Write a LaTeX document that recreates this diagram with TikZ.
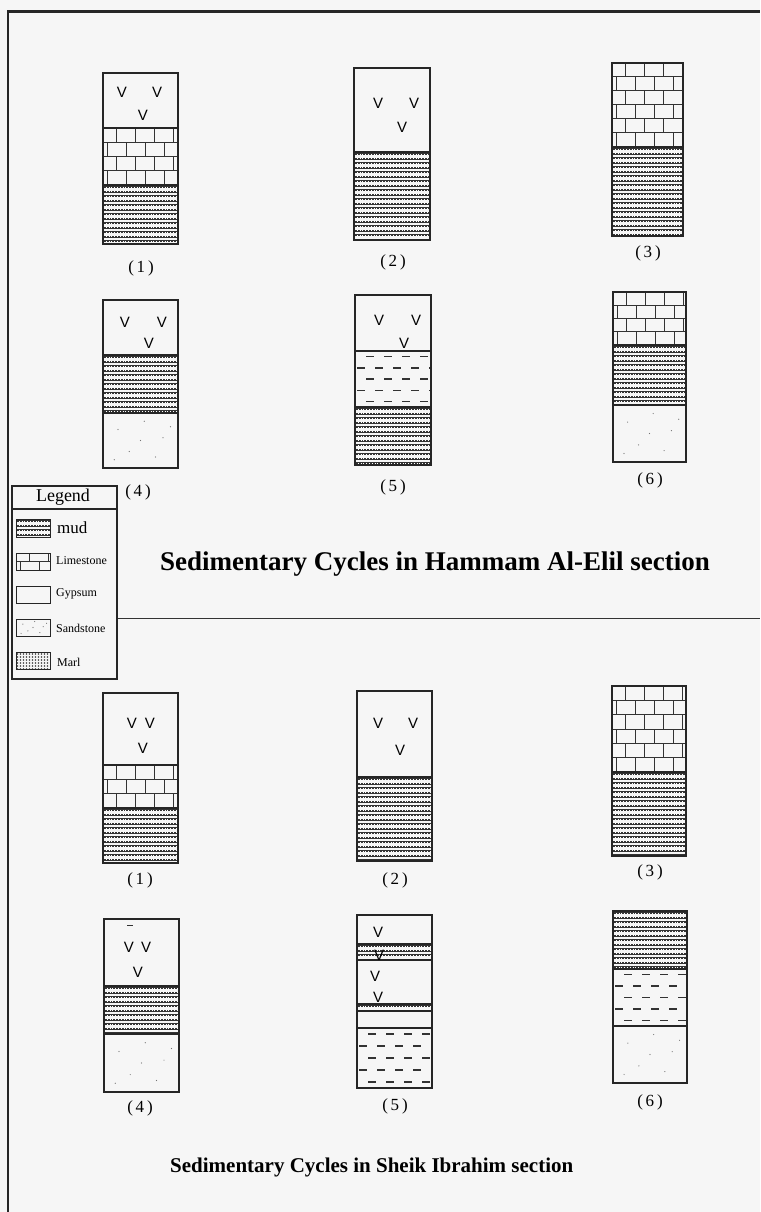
\documentclass[tikz,border=0pt]{standalone}
\usepackage{fontspec}
\setmainfont{Liberation Serif}
\setsansfont{Liberation Sans}

\tikzset{
  bed/.style={draw=black!85, line width=1.2pt},
  mudline/.style={black!80, line width=2.2pt},
  mudgrain/.style={white, line width=0.4pt, dash pattern=on 1pt off 1.8pt},
  brick/.style={black!80, line width=1pt},
  dashmark/.style={black!80, line width=1.4pt},
  gyps/.style={font=\sffamily\fontsize{15}{15}\selectfont, inner sep=0pt},
  cyclabel/.style={font=\fontsize{17}{17}\selectfont},
  legtext/.style={anchor=west, font=\fontsize{12}{12}\selectfont, inner sep=0pt},
}

% mud: x1 y1 x2 y2
\newcommand{\mudbed}[4]{%
  \begin{scope}
    \clip (#1,#2) rectangle (#3,#4);
    \pgfmathsetmacro\hgt{#4-#2+2}
    \foreach \d in {2.2,6.7,...,\hgt} {
      \draw[mudline] (#1,#2+\d) -- (#3,#2+\d);
      \draw[mudgrain] (#1,#2+\d-0.5) -- (#3,#2+\d-0.5);
    }
  \end{scope}}
% limestone: x1 y1 x2 y2 rows
\newcommand{\limebed}[5]{%
  \begin{scope}
    \clip (#1,#2) rectangle (#3,#4);
    \pgfmathsetmacro\rowh{(#4-#2)/#5}
    \foreach \r in {1,...,#5} {
      \pgfmathsetmacro\off{mod(\r,2)*9.5}
      \draw[brick] (#1,#2+\r*\rowh) -- (#3,#2+\r*\rowh);
      \foreach \c in {0,...,4}
        \draw[brick] (#1+4+\off+\c*19,#2+\r*\rowh-\rowh) -- ++(0,\rowh);
    }
  \end{scope}}
% dashed bed: x1 y1 x2 y2 rows
\newcommand{\dashbed}[5]{%
  \begin{scope}
    \clip (#1,#2) rectangle (#3,#4);
    \pgfmathsetmacro\rowh{(#4-#2)/#5}
    \foreach \r in {1,...,#5} {
      \pgfmathsetmacro\off{mod(\r,2)*9}
      \foreach \c in {0,...,4}
        \draw[dashmark] (#1+2+\off+\c*18,#2+\r*\rowh-0.5*\rowh) -- ++(8,0);
    }
  \end{scope}}
% sandstone dots: x1 y1 x2 y2
\newcommand{\sandbed}[4]{%
  \foreach \u/\v in {0.2/0.3,0.55/0.15,0.8/0.45,0.35/0.7,0.7/0.8,0.15/0.85,0.9/0.25,0.5/0.5}
    \fill[black!55] ({#1+\u*(#3-#1)},{#2+\v*(#4-#2)}) circle (0.6pt);}

\begin{document}
\begin{tikzpicture}[x=1pt,y=-1pt]
\useasboundingbox (0,0) rectangle (760,1212);
\fill[gray!7] (0,0) rectangle (760,1212);

% frame
\draw[black!85, line width=2pt] (8,1212) -- (8,12);
\draw[black!85, line width=3pt] (7,12) -- (760,12);
\draw[black!80, line width=1pt] (117,618) -- (760,618);

% ---- Hammam Al-Elil ----
% (1)
\limebed{103}{128}{178}{185}{4}
\mudbed{103}{185}{178}{244}
\draw[bed] (103,73) rectangle (178,244);
\draw[bed] (103,128) -- (178,128) (103,185) -- (178,185);
\node[gyps] (h1a) at (122,92) {V};
\node[gyps] (h1b) at (157,92) {V};
\node[gyps] (h1c) at (143,115) {V};
\node[cyclabel] (h1) at (141,268) {(\,1\,)};
% (2)
\mudbed{354}{152}{430}{240}
\draw[bed] (354,68) rectangle (430,240);
\draw[bed] (354,152) -- (430,152);
\node[gyps] (h2a) at (378,103) {V};
\node[gyps] (h2b) at (414,103) {V};
\node[gyps] (h2c) at (402,127) {V};
\node[cyclabel] (h2) at (393,262) {(\,2\,)};
% (3)
\limebed{612}{63}{683}{147}{6}
\mudbed{612}{147}{683}{236}
\draw[bed] (612,63) rectangle (683,236);
\draw[bed] (612,147) -- (683,147);
\node[cyclabel] (h3) at (648,253) {(\,3\,)};
% (4)
\mudbed{103}{355}{178}{413}
\sandbed{103}{413}{178}{468}
\draw[bed] (103,300) rectangle (178,468);
\draw[bed] (103,355) -- (178,355) (103,413) -- (178,413);
\node[gyps] (h4a) at (125,322) {V};
\node[gyps] (h4b) at (162,322) {V};
\node[gyps] (h4c) at (149,343) {V};
\node[cyclabel] (h4) at (138,492) {(\,4\,)};
% (5)
\dashbed{355}{351}{431}{407}{5}
\mudbed{355}{407}{431}{465}
\draw[bed] (355,295) rectangle (431,465);
\draw[bed] (355,351) -- (431,351) (355,407) -- (431,407);
\node[gyps] (h5a) at (379,320) {V};
\node[gyps] (h5b) at (416,320) {V};
\node[gyps] (h5c) at (404,343) {V};
\node[cyclabel] (h5) at (393,487) {(\,5\,)};
% (6)
\limebed{613}{292}{686}{345}{4}
\mudbed{613}{345}{686}{405}
\sandbed{613}{405}{686}{462}
\draw[bed] (613,292) rectangle (686,462);
\draw[bed] (613,345) -- (686,345) (613,405) -- (686,405);
\node[cyclabel] (h6) at (650,480) {(\,6\,)};

\node[anchor=base west, inner sep=0pt, font=\bfseries\fontsize{27}{27}\selectfont]
  (htitle) at (160,570) {Sedimentary Cycles in Hammam Al-Elil section};

% legend
\draw[black!85, line width=1.2pt, fill=gray!7] (12,486) rectangle (117,679);
\draw[black!85, line width=1.2pt] (12,509) -- (117,509);
\node[font=\fontsize{18}{18}\selectfont] (legtitle) at (63,497) {Legend};
\mudbed{16}{519}{50}{537}
\draw[bed, line width=0.8pt] (16,519) rectangle (50,537);
\node[legtext, font=\fontsize{17}{17}\selectfont] (legmud) at (57,528) {mud};
\limebed{16}{553}{50}{570}{2}
\draw[bed, line width=0.8pt] (16,553) rectangle (50,570);
\node[legtext] (leglime) at (56,561) {Limestone};
\draw[bed, line width=0.8pt] (16,586) rectangle (50,603);
\node[legtext] (leggyp) at (56,594) {Gypsum};
\sandbed{16}{619}{50}{636}
\draw[bed, line width=0.8pt] (16,619) rectangle (50,636);
\node[legtext] (legsand) at (56,628) {Sandstone};
\foreach \i in {0,...,10}
  \foreach \j in {0,...,5}
    \fill[black!75] (17.5+\i*3,654+\j*3) circle (0.8pt);
\draw[bed, line width=0.8pt] (16,652) rectangle (50,669);
\node[legtext] (legmarl) at (57,662) {Marl};

% ---- Sheik Ibrahim ----
% (1)
\limebed{103}{765}{178}{808}{3}
\mudbed{103}{808}{178}{863}
\draw[bed] (103,693) rectangle (178,863);
\draw[bed] (103,765) -- (178,765) (103,808) -- (178,808);
\node[gyps] (s1a) at (132,723) {V};
\node[gyps] (s1b) at (150,723) {V};
\node[gyps] (s1c) at (143,748) {V};
\node[cyclabel] (s1) at (140,880) {(\,1\,)};
% (2)
\mudbed{357}{777}{432}{861}
\draw[bed] (357,691) rectangle (432,861);
\draw[bed] (357,777) -- (432,777);
\node[gyps] (s2a) at (378,723) {V};
\node[gyps] (s2b) at (413,723) {V};
\node[gyps] (s2c) at (400,750) {V};
\node[cyclabel] (s2) at (395,880) {(\,2\,)};
% (3)
\limebed{612}{686}{686}{772}{6}
\mudbed{612}{772}{686}{856}
\draw[bed] (612,686) rectangle (686,856);
\draw[bed] (612,772) -- (686,772);
\node[cyclabel] (s3) at (650,872) {(\,3\,)};
% (4)
\mudbed{104}{986}{179}{1034}
\sandbed{104}{1034}{179}{1092}
\draw[bed] (104,919) rectangle (179,1092);
\draw[bed] (104,986) -- (179,986) (104,1034) -- (179,1034);
\draw[black!80, line width=1pt] (127,925) -- (133,925);
\node[gyps] (s4a) at (129,947) {V};
\node[gyps] (s4b) at (146,947) {V};
\node[gyps] (s4c) at (138,972) {V};
\node[cyclabel] (s4) at (140,1108) {(\,4\,)};
% (5)
\mudbed{357}{944}{432}{960}
\mudbed{357}{1004}{432}{1011}
\dashbed{357}{1028}{432}{1088}{5}
\draw[bed] (357,915) rectangle (432,1088);
\draw[bed] (357,944) -- (432,944) (357,960) -- (432,960);
\draw[bed] (357,1004) -- (432,1004) (357,1011) -- (432,1011);
\draw[bed] (357,1028) -- (432,1028);
\node[gyps] (s5a) at (378,932) {V};
\node[gyps] (s5b) at (379,955) {V};
\node[gyps] (s5c) at (375,976) {V};
\node[gyps] (s5d) at (378,997) {V};
\node[cyclabel] (s5) at (395,1106) {(\,5\,)};
% (6)
\mudbed{613}{911}{687}{969}
\dashbed{613}{969}{687}{1026}{5}
\sandbed{613}{1026}{687}{1083}
\draw[bed] (613,911) rectangle (687,1083);
\draw[bed] (613,969) -- (687,969) (613,1026) -- (687,1026);
\node[cyclabel] (s6) at (650,1102) {(\,6\,)};

\node[anchor=base west, inner sep=0pt, font=\bfseries\fontsize{21}{21}\selectfont]
  (stitle) at (170,1172) {Sedimentary Cycles in Sheik Ibrahim section};
\end{tikzpicture}
\end{document}
